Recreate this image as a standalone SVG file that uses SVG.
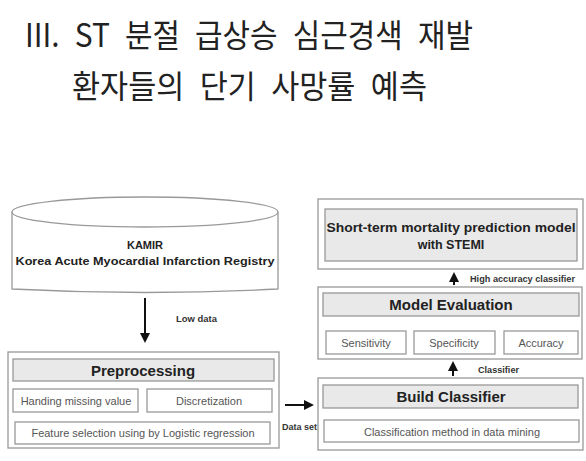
<svg xmlns="http://www.w3.org/2000/svg" width="586" height="461" viewBox="0 0 586 461">
<style>
.title{font-family:"Noto Sans CJK KR","Liberation Sans",sans-serif;font-size:32px;fill:#222;word-spacing:9px}
.box{fill:#fff;stroke:#999;stroke-width:1.3}
.hdr{fill:#e9e9e9;stroke:#999;stroke-width:1.3}
.h{font-family:"Liberation Sans",Arial,sans-serif;font-weight:bold;fill:#222;text-anchor:middle}
.s{font-family:"Liberation Sans",Arial,sans-serif;fill:#555;text-anchor:middle;font-size:11px}
.lbl{font-family:"Liberation Sans",Arial,sans-serif;font-weight:bold;fill:#333;font-size:9px}
.con{stroke:#111;stroke-width:2;fill:none}
</style>
<defs>
<marker id="ah" viewBox="0 0 10 10" refX="8" refY="5" markerWidth="5" markerHeight="5" orient="auto" markerUnits="strokeWidth">
<path d="M0,0 L10,5 L0,10 z" fill="#111"/>
</marker>
</defs>
<rect width="586" height="461" fill="#fff"/>
<g id="title">
<text class="title" x="25" y="47" textLength="448" lengthAdjust="spacingAndGlyphs">III. ST 분절 급상승 심근경색 재발</text>
<text class="title" x="72" y="98" textLength="355" lengthAdjust="spacingAndGlyphs">환자들의 단기 사망률 예측</text>
</g>
<g id="kamir">
<path class="box" d="M12,212 L12,289 Q145,296 278,289 L278,212"/>
<ellipse class="box" cx="145" cy="212" rx="133" ry="15"/>
<text class="h" x="145" y="249" font-size="11">KAMIR</text>
<text class="h" x="145" y="265" font-size="11.5" textLength="259" lengthAdjust="spacingAndGlyphs">Korea Acute Myocardial Infarction Registry</text>
</g>
<g id="preprocessing">
<rect class="box" x="8" y="352" width="271" height="96"/>
<rect class="hdr" x="13" y="359" width="261" height="22"/>
<text class="h" x="143" y="375.5" font-size="15">Preprocessing</text>
<rect class="box" x="13" y="389" width="125" height="23"/>
<text class="s" x="76" y="404.5">Handing missing value</text>
<rect class="box" x="147" y="389" width="125" height="23"/>
<text class="s" x="209" y="404.5">Discretization</text>
<rect class="box" x="15" y="422" width="255" height="22"/>
<text class="s" x="143" y="437">Feature selection using by Logistic regression</text>
</g>
<g id="prediction">
<rect class="box" x="318" y="199" width="265" height="70"/>
<rect class="hdr" x="325" y="209" width="252" height="52"/>
<text class="h" x="451" y="232" font-size="12.5" textLength="249" lengthAdjust="spacingAndGlyphs">Short-term mortality prediction model</text>
<text class="h" x="451" y="249" font-size="12.5">with STEMI</text>
</g>
<g id="evaluation">
<rect class="box" x="318" y="287" width="264" height="72"/>
<rect class="hdr" x="323" y="293" width="256" height="23"/>
<text class="h" x="451" y="310" font-size="15">Model Evaluation</text>
<rect class="box" x="326" y="331" width="80" height="23"/>
<text class="s" x="366" y="346.5">Sensitivity</text>
<rect class="box" x="414" y="331" width="81" height="23"/>
<text class="s" x="454" y="346.5">Specificity</text>
<rect class="box" x="504" y="331" width="74" height="23"/>
<text class="s" x="541" y="346.5">Accuracy</text>
</g>
<g id="classifier">
<rect class="box" x="318" y="378" width="265" height="72"/>
<rect class="hdr" x="323" y="385" width="255" height="23"/>
<text class="h" x="451" y="402" font-size="15">Build Classifier</text>
<rect class="box" x="324" y="420" width="255" height="22"/>
<text class="s" x="452" y="436" font-size="12.5">Classification method in data mining</text>
</g>
<g id="connectors">
<line class="con" x1="145" y1="298" x2="145" y2="341" marker-end="url(#ah)"/>
<text class="lbl" x="176" y="322" textLength="41" lengthAdjust="spacingAndGlyphs">Low data</text>
<line class="con" x1="285" y1="405" x2="312" y2="405" marker-end="url(#ah)"/>
<text class="lbl" x="282" y="430" textLength="35" lengthAdjust="spacingAndGlyphs">Data set</text>
<line class="con" x1="453" y1="376" x2="453" y2="363" marker-end="url(#ah)"/>
<text class="lbl" x="478" y="373" textLength="41" lengthAdjust="spacingAndGlyphs">Classifier</text>
<line class="con" x1="454" y1="285" x2="454" y2="274" marker-end="url(#ah)"/>
<text class="lbl" x="470" y="282" textLength="105" lengthAdjust="spacingAndGlyphs">High accuracy classifier</text>
</g>
</svg>
